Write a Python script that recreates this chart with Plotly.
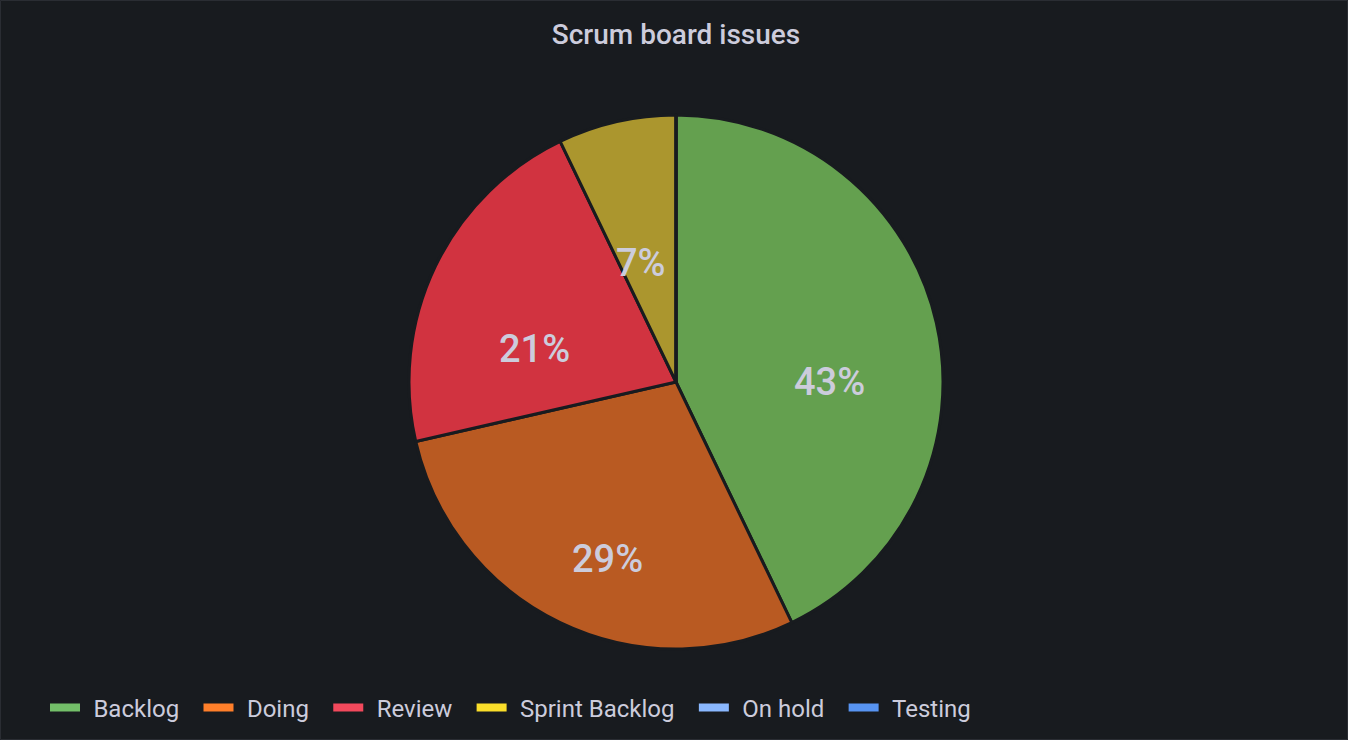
import math
import plotly.graph_objects as go

# ---- data ----
statuses = ["Backlog", "Doing", "Review", "Sprint Backlog", "On hold", "Testing"]
counts = [6, 4, 3, 1, 0, 0]
slice_colors = ["#64a04f", "#b95a22", "#d13340", "#ab962e", "#8ab8ff", "#5794f2"]
legend_colors = ["#73bf69", "#ff7f2a", "#f2495c", "#fade2a", "#8ab8ff", "#5794f2"]
title_text = "Scrum board issues"

BG = "#181b1f"
TXT = "#ccccdc"
FONT = "Roboto, Inter, sans-serif"
W, H = 1348, 740
ML, MR, MT, MB = 4, 0, 115, 91
pw = W - ML - MR
ph = H - MT - MB
R = min(pw, ph) / 2          # pie radius in px
LABEL_R = 0.59               # label radius as fraction of pie radius
LABEL_DROP = 35              # px, labels sit slightly below the arc centroid

fig = go.Figure()

fig.add_trace(go.Pie(
    labels=statuses,
    values=counts,
    sort=False,
    direction="clockwise",
    rotation=0,
    marker=dict(colors=slice_colors, line=dict(color=BG, width=3)),
    textinfo="none",
    showlegend=False,
    hoverinfo="label+value+percent",
))

# percent labels placed at the slice centroids (computed from the data)
total = sum(counts)
cum = 0
for v in counts:
    if v > 0:
        mid = (cum + v / 2) / total * 2 * math.pi
        dx = LABEL_R * R * math.sin(mid)
        dy = LABEL_R * R * math.cos(mid) - LABEL_DROP
        fig.add_annotation(
            x=0.5 + dx / pw, y=0.5 + dy / ph, xref="paper", yref="paper",
            text=f"{round(100 * v / total)}%", showarrow=False,
            xanchor="center", yanchor="middle",
            font=dict(family=FONT, size=38, color=TXT, weight=500),
        )
    cum += v

PRE = "\u00a0\u200a"
POST = "\u00a0\u00a0\u200a"
for name, col in zip(statuses, legend_colors):
    fig.add_trace(go.Scatter(
        x=[None], y=[None], mode="lines", name=PRE + name + POST,
        line=dict(color=col, width=8),
        showlegend=True, hoverinfo="skip",
    ))

fig.add_shape(type="rect", xref="paper", yref="paper",
              x0=(0.5 - ML) / pw, x1=(W - ML - 0.5) / pw,
              y0=-(MB - 0.5) / ph, y1=1 + (MT - 0.5) / ph,
              line=dict(color="#2a2d33", width=1), fillcolor="rgba(0,0,0,0)", layer="below")

fig.update_layout(
    width=W, height=H,
    paper_bgcolor=BG, plot_bgcolor=BG,
    margin=dict(l=ML, r=MR, t=MT, b=MB),
    title=dict(text=title_text, x=0.5, xanchor="center", xref="paper",
               y=1 - 34 / H, yanchor="middle", yref="container",
               font=dict(family=FONT, size=28, color=TXT, weight=500)),
    xaxis=dict(visible=False), yaxis=dict(visible=False),
    legend=dict(orientation="h", x=(45 - ML) / pw, xanchor="left",
                y=-(708 - (H - MB)) / ph, yanchor="middle",
                font=dict(family=FONT, size=24, color=TXT),
                bgcolor="rgba(0,0,0,0)", itemwidth=30, tracegroupgap=0),
    font=dict(family=FONT, color=TXT),
)

fig.write_html("out.html")
